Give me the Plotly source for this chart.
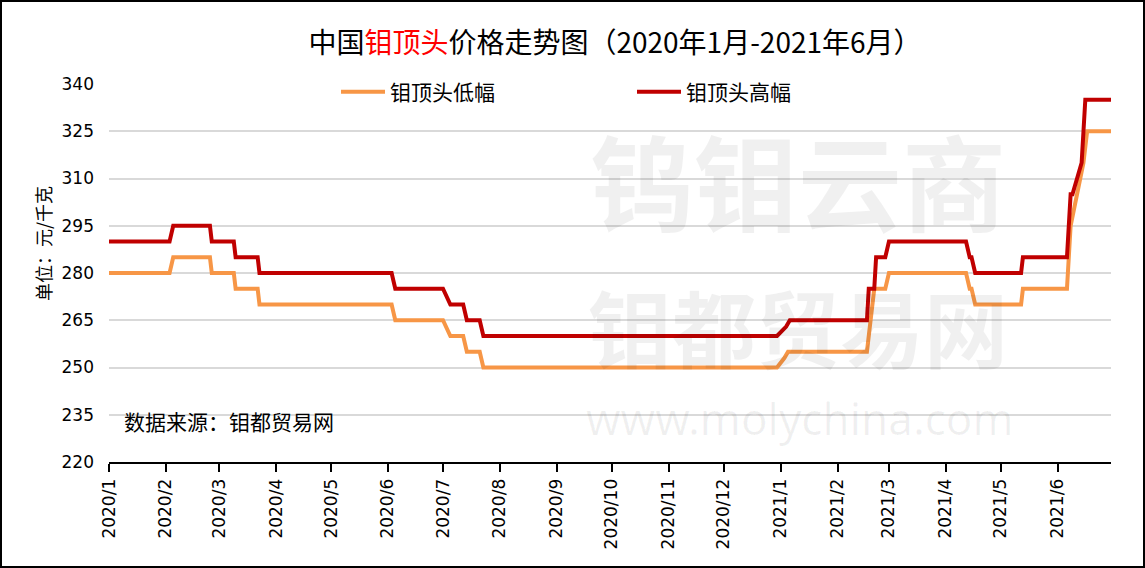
import plotly.graph_objects as go

# ---------------- data ----------------
low_dates = ["2020-01-01", "2020-02-03", "2020-02-05", "2020-02-25", "2020-02-26",
             "2020-03-09", "2020-03-10", "2020-03-22", "2020-03-23", "2020-06-03",
             "2020-06-05", "2020-07-01", "2020-07-05", "2020-07-12", "2020-07-14",
             "2020-07-21", "2020-07-23", "2020-12-30", "2021-01-03", "2021-01-05",
             "2021-02-17", "2021-02-19", "2021-02-21", "2021-02-27", "2021-03-01",
             "2021-04-12", "2021-04-14", "2021-04-15", "2021-04-17", "2021-05-12",
             "2021-05-13", "2021-06-06", "2021-06-08", "2021-06-15", "2021-06-17",
             "2021-06-30"]
low_values = [280, 280, 285, 285, 280,
              280, 275, 275, 270, 270,
              265, 265, 260, 260, 255,
              255, 250, 250, 253, 255,
              255, 265, 275, 275, 280,
              280, 275, 275, 270, 270,
              275, 275, 295, 315, 325,
              325]

high_dates = ["2020-01-01", "2020-02-03", "2020-02-05", "2020-02-25", "2020-02-26",
              "2020-03-09", "2020-03-10", "2020-03-22", "2020-03-23", "2020-06-03",
              "2020-06-05", "2020-07-01", "2020-07-05", "2020-07-12", "2020-07-14",
              "2020-07-21", "2020-07-23", "2020-12-30", "2021-01-04", "2021-01-06",
              "2021-02-17", "2021-02-18", "2021-02-21", "2021-02-22", "2021-02-27",
              "2021-03-01", "2021-04-12", "2021-04-14", "2021-04-15", "2021-04-17",
              "2021-05-12", "2021-05-13", "2021-06-06", "2021-06-07", "2021-06-08",
              "2021-06-09", "2021-06-14", "2021-06-15", "2021-06-16", "2021-06-30"]
high_values = [290, 290, 295, 295, 290,
               290, 285, 285, 280, 280,
               275, 275, 270, 270, 265,
               265, 260, 260, 263, 265,
               265, 275, 275, 285, 285,
               290, 290, 285, 285, 280,
               280, 285, 285, 295, 305,
               305, 315, 325, 335, 335]

series_names = ["钼顶头低幅", "钼顶头高幅"]
y_ticks = [220, 235, 250, 265, 280, 295, 310, 325, 340]

# ---------------- layout constants ----------------
W, H = 1145, 568
L, R, T, B = 109, 34, 84, 106
PW, PH = W - L - R, H - T - B

CJK = "Noto Sans CJK SC"
WM = "rgba(0,0,0,0.06)"

fig = go.Figure()
fig.add_trace(go.Scatter(x=low_dates, y=low_values, mode="lines", name=series_names[0],
                         line=dict(color="#F79646", width=4)))
fig.add_trace(go.Scatter(x=high_dates, y=high_values, mode="lines", name=series_names[1],
                         line=dict(color="#C00000", width=4)))

def px_x(px):
    return (px - L) / PW

def px_y(py):
    return (H - B - py) / PH

annotations = [
    # watermark
    dict(text="<b>钨钼云商</b>", x=px_x(798), y=px_y(178), font=dict(family=CJK, size=104, color=WM)),
    dict(text="<b>钼都贸易网</b>", x=px_x(798), y=px_y(325), font=dict(family=CJK, size=84, color=WM)),
    dict(text="www.molychina.com", x=px_x(800), y=px_y(418), font=dict(family="Noto Sans", size=44, color=WM)),
    # data source
    dict(text="数据来源：钼都贸易网", x=px_x(122), y=px_y(421), xanchor="left",
         font=dict(family=CJK, size=21, color="#000000")),
    # y axis title
    dict(text="单位：元/千克", x=px_x(43), y=px_y(244), textangle=-90,
         font=dict(family=CJK, size=18, color="#000000")),
]
for a in annotations:
    a.setdefault("xanchor", "center")
    a.update(xref="paper", yref="paper", showarrow=False, yanchor="middle")

fig.update_layout(
    width=W, height=H,
    margin=dict(l=L, r=R, t=T, b=B),
    paper_bgcolor="white", plot_bgcolor="white",
    title=dict(text="中国<span style='color:#FF0000'>钼顶头</span>价格走势图（2020年1月-2021年6月）",
               x=615 / W, y=1 - 43 / H, xanchor="center", yanchor="middle",
               font=dict(family=CJK, size=28, color="#000000")),
    legend=dict(orientation="h", x=px_x(336), y=px_y(92), xanchor="left", yanchor="middle",
                bgcolor="rgba(0,0,0,0)", font=dict(family=CJK, size=21, color="#000000"),
                entrywidth=237, itemwidth=44),
    xaxis=dict(type="date", range=["2020-01-01", "2021-06-30"], dtick="M1", tick0="2020-01-01",
               tickformat="%Y/%-m", tickangle=-90, ticks="outside", ticklen=8, tickwidth=2,
               tickcolor="black", showline=True, linecolor="black", linewidth=2, showgrid=False,
               tickfont=dict(family="DejaVu Sans", size=17, color="black")),
    yaxis=dict(range=[220, 340], tickvals=y_ticks, showline=False, ticks="",
               gridcolor="#D9D9D9", gridwidth=2, zeroline=False, ticklabelstandoff=14,
               tickfont=dict(family="DejaVu Sans", size=17, color="black")),
    annotations=annotations,
    shapes=[dict(type="rect", xref="paper", yref="paper",
                 x0=(1 - L) / PW, x1=(W - 1 - L) / PW, y0=(1 - B) / PH, y1=(H - B - 1) / PH,
                 line=dict(color="black", width=2), fillcolor="rgba(0,0,0,0)", layer="above")],
    showlegend=True,
)

fig.write_html("out.html")
